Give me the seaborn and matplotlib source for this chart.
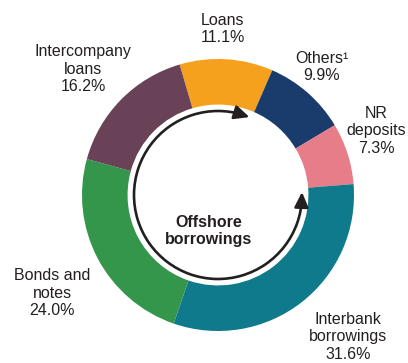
import numpy as np
import matplotlib
matplotlib.use("Agg")
import matplotlib.pyplot as plt
from matplotlib.patches import Arc
import seaborn as sns

# Composition of offshore borrowings (% share)
categories = ["Loans", "Others\u00b9", "NR\ndeposits", "Interbank\nborrowings",
              "Bonds and\nnotes", "Intercompany\nloans"]
shares = [11.1, 9.9, 7.3, 31.6, 24.0, 16.2]
share_labels = ["11.1%", "9.9%", "7.3%", "31.6%", "24.0%", "16.2%"]
colors = ["#F6A11E", "#1A3C6C", "#E67D89", "#0E7A8B", "#34964B", "#6A4258"]

sns.set_theme(style="white")
plt.rcParams["font.family"] = ["Liberation Sans", "DejaVu Sans"]
TEXT = "#231F20"

W, H, DPI = 408, 363, 100
fig = plt.figure(figsize=(W / DPI, H / DPI), dpi=DPI)
ax = fig.add_axes([0, 0, 1, 1])

# ring centre and outer radius in pixels
cx, cy, R = 218, 195, 136

def px(x, y):
    return (x - cx) / R, (cy - y) / R

wedges, _ = ax.pie(shares, colors=colors, startangle=106.4, counterclock=False,
                   radius=1.0, wedgeprops=dict(width=0.335, linewidth=0))

# label blocks around the ring
label_pos = [(223, 29), (322, 67), (376, 131), (348, 337), (52, 293), (83, 69)]
for cat, lab, (lx, ly) in zip(categories, share_labels, label_pos):
    x, y = px(lx, ly)
    ax.text(x, y, f"{cat}\n{lab}", ha="center", va="center", fontsize=11.5,
            color=TEXT, linespacing=1.2)

# centre title
x, y = px(209, 231)
ax.text(x, y, "Offshore\nborrowings", ha="center", va="center", fontsize=11.5,
        fontweight="bold", color=TEXT, linespacing=1.2)

# double-headed circular arrow inside the ring
r_arc = 84 / R
a_top, a_right = 68.0, 2.0
ax.add_patch(Arc((0, 0), 2 * r_arc, 2 * r_arc, theta1=a_top + 4, theta2=360 + a_right - 4,
                 color=TEXT, lw=1.9))

def head(angle_tip, angle_back):
    t = np.deg2rad(angle_tip)
    b = np.deg2rad(angle_back)
    ax.annotate("", xy=(r_arc * np.cos(t), r_arc * np.sin(t)),
                xytext=(r_arc * np.cos(b), r_arc * np.sin(b)),
                arrowprops=dict(arrowstyle="-|>,head_length=0.75,head_width=0.35",
                                color=TEXT, lw=1.9, shrinkA=0, shrinkB=0))

head(a_top, a_top + 8)
head(a_right, a_right - 8)

ax.set_xlim(-cx / R, (W - cx) / R)
ax.set_ylim(-(H - cy) / R, cy / R)
ax.set_aspect("equal")
ax.axis("off")

fig.savefig("out.png", dpi=DPI, facecolor="white")
